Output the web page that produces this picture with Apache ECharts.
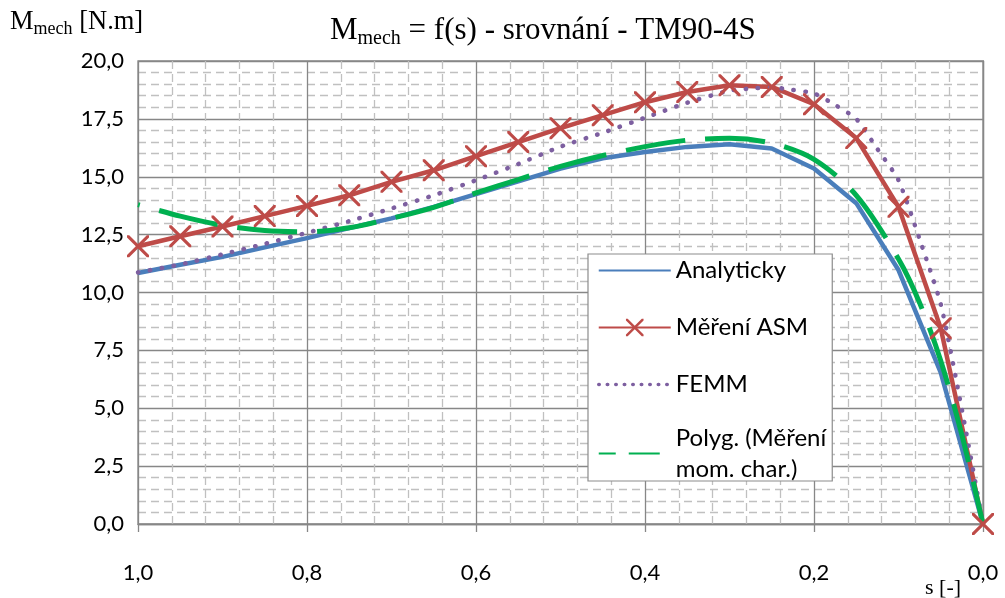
<!DOCTYPE html>
<html>
<head>
<meta charset="utf-8">
<script src="https://cdn.jsdelivr.net/npm/echarts@6/dist/echarts.min.js"></script>
<style>
  html, body { margin: 0; padding: 0; background: #fff; }
  #chart { width: 1005px; height: 598px; }
</style>
</head>
<body>
<div id="chart"></div>
<script>
// Slip values (step 0.05) shared by the analytic curve and the ASM measurement
const slip = [1.0, 0.95, 0.9, 0.85, 0.8, 0.75, 0.7, 0.65, 0.6, 0.55, 0.5,
              0.45, 0.4, 0.35, 0.3, 0.25, 0.2, 0.15, 0.1, 0.05, 0.0];
const analyticky = [10.84, 11.2, 11.54, 11.95, 12.35, 12.78, 13.2, 13.7, 14.25, 14.8, 15.35,
                    15.8, 16.07, 16.29, 16.4, 16.22, 15.36, 13.86, 10.97, 6.54, 0.0];
const mereniAsm = [12.0, 12.43, 12.85, 13.3, 13.74, 14.2, 14.78, 15.28, 15.89, 16.5, 17.1,
                   17.66, 18.22, 18.66, 18.95, 18.88, 18.13, 16.67, 13.7, 8.46, 0.0];

// FEMM simulation
const femmSlip = [1.0, 0.95, 0.9, 0.85, 0.8, 0.75, 0.7, 0.65, 0.6, 0.55, 0.5, 0.45, 0.4,
                  0.35, 0.3, 0.275, 0.25, 0.225, 0.2, 0.175, 0.15, 0.125, 0.1, 0.075, 0.05, 0.025, 0.0];
const femm = [10.87, 11.21, 11.65, 12.1, 12.58, 13.08, 13.63, 14.2, 14.85, 15.55, 16.3, 16.9, 17.55,
              18.2, 18.72, 18.81, 18.86, 18.75, 18.6, 18.1, 17.5, 16.2, 14.85, 12.3, 9.5, 4.95, 0.0];

// Polynomial fit of the measured torque characteristic
const polygSlip = [1.0, 0.95, 0.9, 0.85, 0.8, 0.75, 0.7, 0.65, 0.6, 0.55, 0.5, 0.45, 0.4,
                   0.35, 0.3, 0.25, 0.2, 0.15, 0.1, 0.075, 0.05, 0.025, 0.0];
const polyg = [13.8, 13.3, 12.9, 12.68, 12.62, 12.8, 13.2, 13.68, 14.3, 14.88, 15.45, 15.92, 16.3,
               16.58, 16.66, 16.45, 15.75, 14.2, 11.45, 9.55, 7.05, 3.85, 0.0];

const seriesNames = ['Analyticky', 'Měření ASM', 'FEMM', 'Polyg. (Měření\nmom. char.)'];

const pairs = (xs, ys) => xs.map((x, i) => [x, ys[i]]);
const comma = v => v.toFixed(1).replace('.', ',');

const labelFont = 'Lato';
const serif = 'Liberation Serif';
const majorGrid = '#878787';
const minorGrid = '#c0c0c0';

// thick "X" marker
const crossPath = 'path://M0,0 L1,0 L5,4 L9,0 L10,0 L10,1 L6,5 L10,9 L10,10 L9,10 L5,6 L1,10 L0,10 L0,9 L4,5 L0,1 Z';

const chart = echarts.init(document.getElementById('chart'), null, { renderer: 'canvas' });

chart.setOption({
  animation: false,
  backgroundColor: '#fff',
  title: [
    {
      text: '{m|M}{s|mech}{m| = f(s) - srovnání - TM90-4S}',
      left: 330, top: 13, padding: 0,
      textStyle: {
        fontWeight: 'normal',
        rich: {
          m: { fontFamily: serif, fontSize: 31, fontWeight: 'normal', lineHeight: 36, color: '#000' },
          s: { fontFamily: serif, fontSize: 20, fontWeight: 'normal', lineHeight: 19, verticalAlign: 'bottom', color: '#000' }
        }
      }
    },
    {
      text: '{m|M}{s|mech}{m| [N.m]}',
      left: 10, top: 7, padding: 0,
      textStyle: {
        fontWeight: 'normal',
        rich: {
          m: { fontFamily: serif, fontSize: 26.5, fontWeight: 'normal', lineHeight: 31, color: '#000' },
          s: { fontFamily: serif, fontSize: 18, fontWeight: 'normal', lineHeight: 17, verticalAlign: 'bottom', color: '#000' }
        }
      }
    },
    {
      text: 's [-]',
      left: 925, top: 577, padding: 0,
      textStyle: { fontFamily: serif, fontSize: 22, fontWeight: 'normal', color: '#000' }
    }
  ],
  grid: {
    left: 138, right: 22, top: 61, bottom: 74,
    show: true, borderColor: majorGrid, borderWidth: 1.3, backgroundColor: 'transparent'
  },
  legend: {
    orient: 'vertical',
    left: 588, top: 254,
    padding: [1, 6, 0, 9],
    itemWidth: 72, itemHeight: 22, itemGap: 26,
    backgroundColor: '#fff', borderColor: '#8c8c8c', borderWidth: 1.2,
    textStyle: { fontFamily: labelFont, fontSize: 24, lineHeight: 31, color: '#000' },
    data: [
      { name: seriesNames[0], itemStyle: { opacity: 0 } },
      { name: seriesNames[1] },
      { name: seriesNames[2], itemStyle: { opacity: 0 }, lineStyle: { type: [0.5, 8], width: 3.5 } },
      { name: seriesNames[3], itemStyle: { opacity: 0 }, lineStyle: { type: [31, 13] },
        textStyle: { padding: [0, 0, -31, 0] } }
    ]
  },
  xAxis: {
    type: 'value', inverse: true, min: 0, max: 1, interval: 0.2,
    axisLine: { show: true, lineStyle: { color: majorGrid, width: 1.3 } },
    axisTick: { show: true, length: 8, lineStyle: { color: majorGrid, width: 1.3 } },
    axisLabel: { formatter: comma, margin: 38, fontFamily: labelFont, fontSize: 22, color: '#000' },
    splitLine: { show: true, lineStyle: { color: majorGrid, width: 1.3 } },
    minorTick: { show: false, splitNumber: 5 },
    minorSplitLine: { show: true, lineStyle: { color: minorGrid, width: 1.3, type: [8, 5] } }
  },
  yAxis: {
    type: 'value', min: 0, max: 20, interval: 2.5,
    axisLine: { show: true, lineStyle: { color: majorGrid, width: 1.3 } },
    axisTick: { show: false },
    axisLabel: { formatter: comma, margin: 14, fontFamily: labelFont, fontSize: 22, color: '#000' },
    splitLine: { show: true, lineStyle: { color: majorGrid, width: 1.3 } },
    minorTick: { show: false, splitNumber: 5 },
    minorSplitLine: { show: true, lineStyle: { color: minorGrid, width: 1.3, type: [8, 5] } }
  },
  series: [
    {
      name: seriesNames[0], type: 'line', data: pairs(slip, analyticky),
      symbol: 'none', clip: false,
      lineStyle: { color: '#4a7ebb', width: 4.5, join: 'round' },
      itemStyle: { color: '#4a7ebb' }
    },
    {
      name: seriesNames[1], type: 'line', data: pairs(slip, mereniAsm),
      symbol: crossPath, symbolSize: 22, showSymbol: true, clip: false,
      lineStyle: { color: '#be4b48', width: 4.5, join: 'round' },
      itemStyle: { color: '#be4b48' }
    },
    {
      name: seriesNames[2], type: 'line', data: pairs(femmSlip, femm),
      symbol: 'none', smooth: 0.2, clip: false,
      lineStyle: { color: '#7d5fa0', width: 4.5, type: [0.5, 11.5], cap: 'round' },
      itemStyle: { color: '#7d5fa0' }
    },
    {
      name: seriesNames[3], type: 'line', data: pairs(polygSlip, polyg),
      symbol: 'none', smooth: 0.3, clip: false,
      lineStyle: { color: '#00b050', width: 5, type: [60, 20], dashOffset: 58 },
      itemStyle: { color: '#00b050' }
    }
  ]
});
</script>
</body>
</html>
